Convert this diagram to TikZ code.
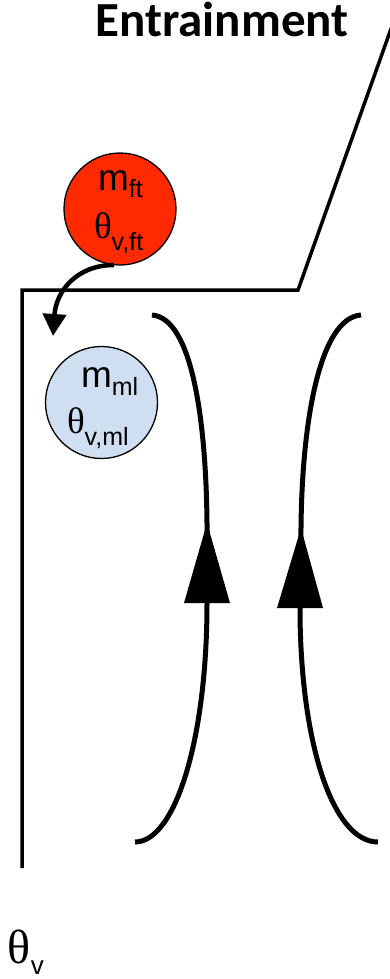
\documentclass[tikz,border=0pt]{standalone}
\usepackage{fontspec}
\setmainfont{Liberation Sans}
\newfontfamily\calib{Carlito}
\newfontfamily\serifth{Liberation Serif}
\usetikzlibrary{arrows.meta}
\definecolor{ftred}{RGB}{255,42,0}
\definecolor{mlblue}{RGB}{207,223,241}
\tikzset{
  wall/.style={line width=3.5pt, line join=miter},
  flow/.style={line width=5pt},
  parcel/.style={circle, draw=black, line width=1.3pt, inner sep=0pt, minimum size=112pt},
  lbl/.style={anchor=base west, inner sep=0pt, outer sep=0pt},
  tri/.style={fill=black}
}
\newcommand{\mainsz}{\fontsize{37}{37}\selectfont}
\newcommand{\subsz}{\fontsize{25}{25}\selectfont}
\begin{document}
\begin{tikzpicture}[x=1pt,y=-1pt]
\useasboundingbox (0,0) rectangle (390,979);
% title
\node[anchor=base, inner sep=0pt] (title) at (222,37) {\calib\bfseries\fontsize{49}{49}\selectfont Entrainment};
% top boundary
\coordinate (tr) at (392,26);
\coordinate (kink) at (298,290);
\coordinate (corner) at (22,290);
\coordinate (bottom) at (22,868);
\begin{scope}
\clip (0,0) rectangle (390,979);
\draw[wall] (tr) -- (kink) -- (corner) -- (bottom);
\end{scope}
% parcels
\node[parcel, fill=ftred] (ft) at (120,209) {};
\node[parcel, fill=mlblue] (ml) at (101.5,402.5) {};
\node[lbl] (mft) at (98,190) {\mainsz m\raisebox{-7pt}{\subsz ft}};
\node[lbl] (thft) at (94,238) {\mainsz\serifth θ\raisebox{-12pt}{\subsz\normalfont v,ft}};
\node[lbl] (mml) at (81,387) {\mainsz m\raisebox{-8pt}{\subsz ml}};
\node[lbl] (thml) at (67,433) {\mainsz\serifth θ\raisebox{-12pt}{\subsz\normalfont v,ml}};
% entrainment arrow
\coordinate (arrs) at (114,265);
\coordinate (arre) at (53,336);
\draw[line width=4.5pt, -{Triangle[length=22pt,width=23pt]}] (arrs) .. controls (76,265) and (56,292) .. (arre);
% left eddy
\coordinate (l1) at (152,315);
\coordinate (la) at (207,523);
\coordinate (lb) at (207,603);
\coordinate (l2) at (135,842);
\draw[flow] (l1) .. controls (192,318) and (206,420) .. (la) -- (lb) .. controls (207,740) and (175,842) .. (l2);
\fill[tri] (la) -- (184,603) -- (230,603) -- cycle;
% right eddy
\coordinate (r1) at (361,315);
\coordinate (ra) at (301,528);
\coordinate (rb) at (300,608);
\coordinate (r2) at (378,842);
\draw[flow] (r1) .. controls (320,318) and (302,420) .. (ra) -- (rb) .. controls (300,740) and (332,842) .. (r2);
\fill[tri] (ra) -- (277,608) -- (323,608) -- cycle;
% theta_v label
\node[lbl] (thv) at (8,963) {\serifth\fontsize{48}{48}\selectfont θ\raisebox{-11pt}{\fontsize{26}{26}\selectfont\normalfont v}};
\end{tikzpicture}
\end{document}
